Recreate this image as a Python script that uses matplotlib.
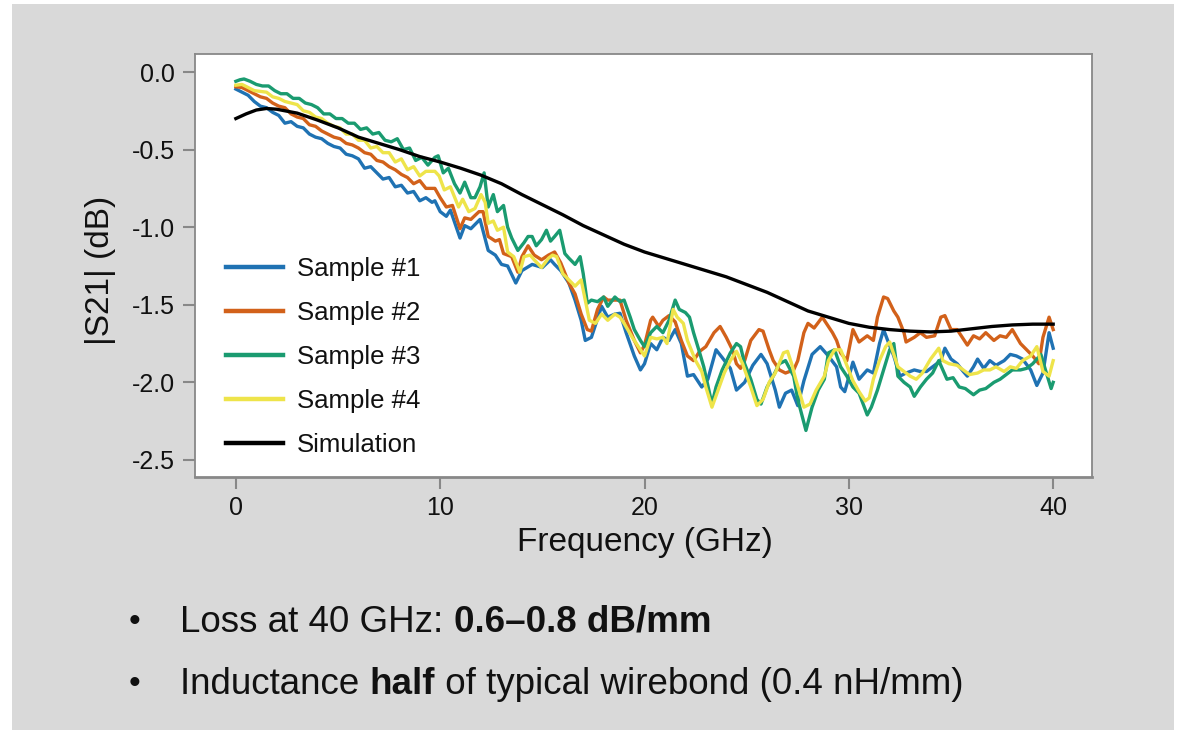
import matplotlib
matplotlib.use("Agg")
import matplotlib.pyplot as plt
from matplotlib.patches import Rectangle

plt.rcParams['font.family'] = ['Liberation Sans', 'DejaVu Sans']

# ---------------- data ----------------
f1 = [0.0, 0.3, 0.6, 0.9, 1.2, 1.5, 1.8, 2.1, 2.4, 2.7, 3.0, 3.3, 3.6, 3.9, 4.2, 4.5, 4.8, 5.1, 5.4, 5.7,
      6.0, 6.3, 6.6, 6.9, 7.2, 7.5, 7.8, 8.1, 8.4, 8.7, 9.0, 9.3, 9.6, 9.74, 10.0, 10.3, 10.5, 10.97, 11.2, 11.5,
      11.95, 12.35, 12.7, 13.0, 13.3, 13.7, 14.0, 14.5, 15.0, 15.4, 15.6, 15.9, 16.3, 16.6, 16.9, 17.1, 17.4, 17.9, 18.2, 18.55,
      18.8, 19.1, 19.5, 19.8, 20.0, 20.3, 20.6, 20.9, 21.2, 21.5, 21.8, 22.1, 22.4, 22.8, 23.1, 23.5, 23.8, 24.2, 24.5, 24.9,
      25.3, 25.7, 26.0, 26.4, 26.6, 26.9, 27.2, 27.5, 27.8, 28.2, 28.6, 29.0, 29.4, 29.6, 29.8, 30.2, 30.5, 30.9, 31.2, 31.5,
      31.7, 31.9, 32.2, 32.5, 32.8, 33.2, 33.5, 33.8, 34.1, 34.5, 34.7, 35.0, 35.3, 35.6, 35.8, 36.1, 36.3, 36.6, 36.9, 37.2,
      37.6, 37.9, 38.2, 38.5, 38.9, 39.2, 39.5, 39.8, 40.0]
s1 = [-0.11, -0.13, -0.15, -0.19, -0.22, -0.23, -0.26, -0.28, -0.33, -0.32, -0.35, -0.36, -0.40, -0.42, -0.43, -0.46, -0.48, -0.49, -0.53, -0.54,
      -0.56, -0.62, -0.61, -0.65, -0.69, -0.68, -0.74, -0.73, -0.78, -0.77, -0.83, -0.81, -0.84, -0.83, -0.90, -0.93, -0.89, -1.07, -0.99, -1.01,
      -0.95, -1.15, -1.18, -1.24, -1.25, -1.36, -1.28, -1.24, -1.26, -1.21, -1.24, -1.28, -1.36, -1.47, -1.60, -1.73, -1.71, -1.51, -1.58, -1.56,
      -1.555, -1.68, -1.83, -1.92, -1.88, -1.75, -1.79, -1.71, -1.73, -1.66, -1.75, -1.96, -1.95, -2.03, -1.98, -1.79, -1.84, -1.91, -2.05, -2.00,
      -1.89, -1.82, -1.88, -2.05, -2.16, -2.07, -2.05, -2.15, -1.99, -1.82, -1.77, -1.83, -1.90, -2.03, -2.06, -1.87, -1.98, -1.92, -1.94, -1.75,
      -1.66, -1.73, -1.83, -1.96, -1.94, -1.92, -1.93, -1.93, -1.90, -1.86, -1.78, -1.85, -1.88, -1.93, -1.96, -1.90, -1.85, -1.91, -1.86, -1.89,
      -1.86, -1.82, -1.83, -1.85, -1.92, -2.02, -1.94, -1.68, -1.78]

f2 = [0.0, 0.3, 0.6, 0.9, 1.2, 1.5, 1.8, 2.1, 2.4, 2.7, 3.0, 3.3, 3.6, 3.9, 4.2, 4.5, 4.8, 5.1, 5.4, 5.7,
      6.0, 6.3, 6.6, 6.9, 7.2, 7.5, 7.8, 8.1, 8.4, 8.7, 9.0, 9.3, 9.74, 10.0, 10.3, 10.6, 10.97, 11.2, 11.5, 11.9,
      12.1, 12.35, 12.7, 12.9, 13.1, 13.5, 13.8, 14.0, 14.3, 14.6, 14.96, 15.3, 15.6, 15.9, 16.3, 16.6, 16.9, 17.2, 17.4, 17.7,
      18.0, 18.2, 18.55, 18.8, 19.1, 19.5, 19.8, 20.0, 20.3, 20.4, 20.7, 20.9, 21.2, 21.5, 21.8, 22.1, 22.4, 22.7, 23.0, 23.4,
      23.7, 24.0, 24.3, 24.5, 24.7, 24.9, 25.2, 25.6, 25.8, 26.1, 26.3, 26.6, 26.9, 27.3, 27.5, 27.8, 28.0, 28.3, 28.7, 28.9,
      29.2, 29.4, 29.6, 29.9, 30.2, 30.5, 30.9, 31.2, 31.4, 31.7, 31.9, 32.2, 32.4, 32.7, 32.8, 33.2, 33.5, 33.8, 34.2, 34.5,
      34.7, 35.0, 35.3, 35.8, 36.1, 36.4, 36.7, 37.1, 37.4, 37.7, 38.0, 38.4, 38.7, 39.0, 39.3, 39.5, 39.8, 40.0]
s2 = [-0.095, -0.10, -0.12, -0.14, -0.16, -0.17, -0.20, -0.22, -0.23, -0.27, -0.29, -0.30, -0.34, -0.35, -0.38, -0.40, -0.42, -0.43, -0.46, -0.47,
      -0.49, -0.52, -0.53, -0.57, -0.58, -0.61, -0.63, -0.66, -0.68, -0.72, -0.70, -0.75, -0.75, -0.81, -0.87, -0.86, -1.01, -0.94, -0.95, -0.90,
      -0.90, -1.06, -1.09, -1.08, -1.17, -1.19, -1.29, -1.19, -1.12, -1.18, -1.21, -1.18, -1.16, -1.23, -1.36, -1.43, -1.56, -1.66, -1.67, -1.53,
      -1.45, -1.47, -1.47, -1.47, -1.60, -1.73, -1.81, -1.76, -1.60, -1.58, -1.64, -1.60, -1.57, -1.61, -1.73, -1.83, -1.86, -1.80, -1.77, -1.68,
      -1.64, -1.71, -1.79, -1.88, -1.91, -1.86, -1.73, -1.66, -1.67, -1.79, -1.86, -1.92, -1.94, -1.92, -1.86, -1.68, -1.62, -1.65, -1.58, -1.62,
      -1.68, -1.73, -1.81, -1.86, -1.66, -1.74, -1.70, -1.73, -1.58, -1.45, -1.46, -1.54, -1.58, -1.68, -1.74, -1.71, -1.68, -1.71, -1.70, -1.58,
      -1.57, -1.66, -1.66, -1.76, -1.70, -1.72, -1.68, -1.73, -1.70, -1.71, -1.66, -1.75, -1.79, -1.83, -1.88, -1.71, -1.58, -1.66]

f3 = [0.0, 0.2, 0.4, 0.7, 1.0, 1.3, 1.6, 1.9, 2.2, 2.5, 2.8, 3.1, 3.4, 3.7, 4.0, 4.3, 4.6, 4.9, 5.2, 5.5,
      5.8, 6.1, 6.4, 6.7, 7.0, 7.3, 7.6, 7.9, 8.2, 8.5, 8.8, 9.1, 9.4, 9.74, 9.9, 10.15, 10.4, 10.7, 10.97, 11.2,
      11.5, 11.7, 11.95, 12.15, 12.35, 12.6, 12.8, 13.1, 13.3, 13.5, 13.8, 14.1, 14.3, 14.5, 14.7, 14.96, 15.2, 15.4, 15.6, 15.85,
      16.1, 16.3, 16.6, 16.85, 17.0, 17.2, 17.4, 17.7, 18.0, 18.2, 18.55, 18.8, 19.0, 19.3, 19.5, 19.8, 20.0, 20.3, 20.6, 20.9,
      21.2, 21.5, 21.7, 22.0, 22.2, 22.4, 22.7, 22.9, 23.3, 23.5, 23.8, 24.2, 24.5, 24.7, 24.9, 25.2, 25.5, 25.7, 26.0, 26.3,
      26.6, 26.9, 27.3, 27.5, 27.9, 28.2, 28.5, 28.8, 29.0, 29.3, 29.6, 29.9, 30.2, 30.5, 30.9, 31.1, 31.4, 31.7, 32.0, 32.2,
      32.4, 32.7, 33.0, 33.2, 33.5, 33.8, 34.1, 34.4, 34.6, 34.8, 35.1, 35.4, 35.7, 36.1, 36.4, 36.7, 37.1, 37.4, 37.7, 38.0,
      38.4, 38.7, 39.0, 39.4, 39.6, 39.9, 40.0]
s3 = [-0.06, -0.05, -0.045, -0.06, -0.08, -0.09, -0.09, -0.12, -0.14, -0.14, -0.17, -0.17, -0.20, -0.21, -0.23, -0.27, -0.27, -0.30, -0.30, -0.33,
      -0.33, -0.37, -0.36, -0.40, -0.39, -0.44, -0.45, -0.43, -0.50, -0.49, -0.57, -0.55, -0.60, -0.55, -0.54, -0.65, -0.62, -0.72, -0.78, -0.71,
      -0.81, -0.81, -0.74, -0.65, -0.87, -0.79, -0.90, -0.86, -1.00, -1.07, -1.15, -1.10, -1.06, -1.06, -1.12, -1.08, -1.02, -1.09, -1.06, -1.02,
      -1.17, -1.20, -1.24, -1.19, -1.30, -1.49, -1.47, -1.48, -1.45, -1.51, -1.45, -1.48, -1.47, -1.58, -1.66, -1.73, -1.77, -1.68, -1.64, -1.68,
      -1.60, -1.47, -1.53, -1.55, -1.58, -1.68, -1.81, -1.90, -2.14, -2.03, -1.92, -1.81, -1.75, -1.77, -1.88, -1.98, -2.11, -2.14, -2.03, -1.96,
      -1.88, -1.86, -1.96, -2.11, -2.31, -2.16, -2.05, -1.98, -1.81, -1.79, -1.90, -1.96, -2.03, -2.07, -2.21, -2.16, -2.05, -1.92, -1.79, -1.75,
      -1.96, -2.00, -2.03, -2.09, -2.03, -1.98, -1.94, -1.86, -1.92, -1.98, -1.97, -2.03, -2.04, -2.08, -2.05, -2.04, -2.00, -1.98, -1.95, -1.92,
      -1.92, -1.91, -1.88, -1.82, -1.91, -2.04, -2.00]

f4 = [0.0, 0.3, 0.6, 0.9, 1.2, 1.5, 1.8, 2.1, 2.4, 2.7, 3.0, 3.3, 3.6, 3.9, 4.2, 4.5, 4.8, 5.1, 5.4, 5.7,
      6.0, 6.3, 6.6, 6.9, 7.2, 7.5, 7.8, 8.1, 8.4, 8.7, 9.0, 9.3, 9.74, 9.95, 10.2, 10.5, 10.9, 11.1, 11.4, 11.7,
      12.0, 12.2, 12.35, 12.6, 12.8, 13.1, 13.3, 13.6, 13.9, 14.1, 14.4, 14.6, 14.96, 15.3, 15.5, 15.7, 16.0, 16.3, 16.6, 16.9,
      17.1, 17.3, 17.6, 17.9, 18.2, 18.55, 18.8, 19.0, 19.4, 19.7, 20.0, 20.3, 20.6, 20.9, 21.1, 21.4, 21.6, 21.9, 22.1, 22.5,
      22.8, 23.0, 23.3, 23.6, 23.9, 24.2, 24.5, 24.8, 25.2, 25.5, 25.8, 26.1, 26.4, 26.8, 27.0, 27.2, 27.4, 27.8, 28.1, 28.4,
      28.8, 29.0, 29.3, 29.6, 29.9, 30.2, 30.5, 30.8, 31.0, 31.2, 31.5, 31.8, 32.0, 32.4, 32.7, 33.0, 33.3, 33.6, 34.0, 34.4,
      34.6, 34.9, 35.3, 35.6, 35.9, 36.3, 36.6, 36.9, 37.2, 37.6, 37.9, 38.2, 38.5, 38.9, 39.2, 39.5, 39.8, 40.0]
s4 = [-0.085, -0.08, -0.10, -0.12, -0.125, -0.13, -0.16, -0.17, -0.19, -0.20, -0.21, -0.25, -0.26, -0.29, -0.30, -0.33, -0.35, -0.36, -0.40, -0.40,
      -0.44, -0.44, -0.49, -0.48, -0.52, -0.52, -0.58, -0.56, -0.63, -0.61, -0.67, -0.64, -0.64, -0.67, -0.76, -0.74, -0.87, -0.82, -0.90, -0.88,
      -0.79, -0.84, -0.975, -0.96, -1.02, -1.00, -1.16, -1.19, -1.29, -1.19, -1.18, -1.21, -1.26, -1.20, -1.18, -1.19, -1.30, -1.34, -1.38, -1.34,
      -1.47, -1.60, -1.62, -1.56, -1.60, -1.56, -1.58, -1.62, -1.71, -1.77, -1.83, -1.71, -1.72, -1.71, -1.75, -1.53, -1.58, -1.62, -1.73, -1.86,
      -1.93, -2.03, -2.16, -2.05, -1.94, -1.86, -1.80, -1.88, -2.03, -2.15, -2.11, -2.00, -1.94, -1.81, -1.80, -1.88, -1.98, -2.16, -2.14, -2.05,
      -1.96, -1.86, -1.79, -1.79, -1.89, -1.99, -2.06, -2.12, -2.10, -1.98, -1.86, -1.77, -1.74, -1.90, -1.93, -1.96, -1.98, -1.94, -1.85, -1.78,
      -1.86, -1.88, -1.89, -1.92, -1.95, -1.94, -1.92, -1.92, -1.90, -1.93, -1.90, -1.91, -1.86, -1.83, -1.77, -1.93, -1.96, -1.86]

f_sim = [0, 0.5, 1, 1.5, 2, 3, 4, 5, 6, 7, 8, 9, 10, 11, 12, 13, 14, 15, 16, 17,
         18, 19, 20, 21, 22, 23, 24, 25, 26, 27, 28, 29, 30, 31, 32, 33, 34, 35, 36, 37,
         38, 39, 40]
s_sim = [-0.30, -0.27, -0.245, -0.235, -0.24, -0.265, -0.31, -0.36, -0.42, -0.46, -0.50, -0.545, -0.58, -0.62, -0.665, -0.72, -0.79, -0.855, -0.92, -0.99,
         -1.05, -1.11, -1.16, -1.20, -1.24, -1.28, -1.32, -1.37, -1.42, -1.48, -1.54, -1.58, -1.62, -1.645, -1.66, -1.67, -1.675, -1.67, -1.655, -1.64,
         -1.63, -1.625, -1.625]

labels = ["Sample #1", "Sample #2", "Sample #3", "Sample #4", "Simulation"]
colors = ["#1f72b3", "#d2611a", "#1a9b70", "#eee44a", "#000000"]
x_ticks = [0, 10, 20, 30, 40]
y_ticks = [0.0, -0.5, -1.0, -1.5, -2.0, -2.5]
y_ticklabels = ["0.0", "-0.5", "-1.0", "-1.5", "-2.0", "-2.5"]

# ---------------- figure ----------------
W, H = 1178, 730
fig = plt.figure(figsize=(W / 100, H / 100), dpi=100, facecolor="white")
fig.patches.append(Rectangle((12 / W, 0), (1174 - 12) / W, (726 - 0) / H,
                             transform=fig.transFigure, facecolor="#d9d9d9",
                             edgecolor="none", zorder=-10))

ax = fig.add_axes([195 / W, 1 - 477 / H, (1092 - 195) / W, (477 - 54) / H])
ax.set_zorder(2)
ax.set_facecolor("white")

series = [(f1, s1), (f2, s2), (f3, s3), (f4, s4), (f_sim, s_sim)]
for (fx, sy), lab, col in zip(series, labels, colors):
    ax.plot(fx, sy, color=col, lw=2.4, label=lab, solid_joinstyle="round")

ax.set_xlim(-2.0, 41.9)
ax.set_ylim(-2.61, 0.116)
ax.set_xticks(x_ticks)
ax.set_xticklabels([str(t) for t in x_ticks])
ax.set_yticks(y_ticks)
ax.set_yticklabels(y_ticklabels)

for sp in ax.spines.values():
    sp.set_color("#888888")
    sp.set_linewidth(1.3)
ax.spines["bottom"].set_linewidth(2.0)
ax.tick_params(axis="both", direction="out", length=8.5, width=1.5, color="#888888",
               labelsize=18, labelcolor="#111111")
ax.tick_params(axis="x", pad=5)
ax.tick_params(axis="y", pad=6)

fig.text(645 / W, 1 - 543 / H, "Frequency (GHz)", fontsize=24, ha="center", va="center", color="#111111")
fig.text(101 / W, 1 - 270 / H, "|S21| (dB)", fontsize=24, ha="center", va="center",
         rotation=90, color="#111111")

leg = ax.legend(loc="upper left", bbox_to_anchor=((226 - 195) / 897, (477 - 257) / 423),
                frameon=False, fontsize=18.5, handlelength=2.2, handletextpad=0.55,
                labelspacing=0.78, borderaxespad=0, borderpad=0)
for line in leg.get_lines():
    line.set_linewidth(3.2)
for t in leg.get_texts():
    t.set_color("#111111")

# ---------------- bullet text ----------------
fig.canvas.draw()
renderer = fig.canvas.get_renderer()


def rich_line(y_px, parts):
    x = 180 / W
    for txt, weight in parts:
        t = fig.text(x, 1 - y_px / H, txt, fontsize=26.5, fontweight=weight,
                     ha="left", va="center", color="#111111")
        bb = t.get_window_extent(renderer=renderer)
        x = bb.x1 / (W)


fig.text(135 / W, 1 - 622 / H, "•", fontsize=24, ha="center", va="center", color="#111111")
fig.text(135 / W, 1 - 685 / H, "•", fontsize=24, ha="center", va="center", color="#111111")
rich_line(622, [("Loss at 40 GHz: ", "normal"), ("0.6–0.8 dB/mm", "bold")])
rich_line(685, [("Inductance ", "normal"), ("half", "bold"),
                (" of typical wirebond (0.4 nH/mm)", "normal")])

fig.savefig("out.png", dpi=100, facecolor="white")
